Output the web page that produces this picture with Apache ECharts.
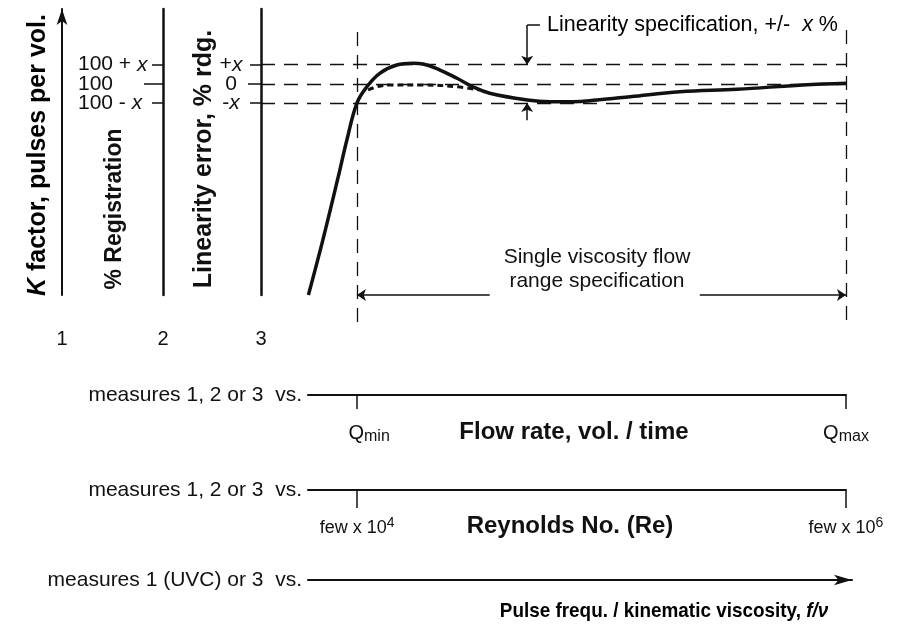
<!DOCTYPE html>
<html>
<head>
<meta charset="utf-8">
<script src="https://cdn.jsdelivr.net/npm/echarts@6/dist/echarts.min.js"></script>
<style>html,body{margin:0;padding:0;background:#fff}#chart{width:911px;height:628px}</style>
</head>
<body>
<div id="chart"></div>
<script>
// flow position (0..100 = Qmax) and linearity error in units of x %
const flowPos = [8.1, 10.6, 13.2, 14.7, 16.4, 18.1, 20.3, 23.2, 26.0, 27.7, 30.6, 33.5, 36.2, 39.1, 45.5, 49.4, 53.3, 57.4, 63.1, 71.6, 81.4, 92.6, 100];
const linErr  = [-11.0, -8.1, -4.85, -2.9, -1.0, -0.15, 0.55, 0.98, 1.07, 1.03, 0.72, 0.29, -0.15, -0.49, -0.84, -0.93, -0.93, -0.84, -0.67, -0.41, -0.28, -0.06, 0.03];
// dashed (ideal) curve
const idealPos = [18.3, 19.8, 22.0, 27.7, 33.5, 37.4];
const idealErr = [-0.32, -0.15, -0.06, -0.06, -0.15, -0.32];

const specLevels = [-1, 0, 1];         // -x, 0, +x
const qMin = 16.4, qMax = 100;
const specTop = 2.7, specBottom = -12.5;
const rangeY = -11, rangeGap = [39.1, 75];
const bracketX = 45.5, bracketTop = 3.07, bracketEnd = 47.7, lowerFrom = -1.9;

const FONT = "'Liberation Sans', Arial, sans-serif";
const INK = '#111';

const chart = echarts.init(document.getElementById('chart'));

const specSegs = specLevels.map(v => [[0, v], [qMax, v]])
  .concat([[[qMin, specTop], [qMin, specBottom]], [[qMax, specTop + 0.1], [qMax, specBottom]]]);
const arrowSegs = [
  [[bracketX, bracketTop], [bracketX, specLevels[2]]],
  [[bracketX, lowerFrom], [bracketX, specLevels[0]]],
  [[rangeGap[0], rangeY], [qMin, rangeY]],
  [[rangeGap[1], rangeY], [qMax, rangeY]]
];
const plainSegs = [[[bracketX, bracketTop], [bracketEnd, bracketTop]]];

const txt = (size, extra) => Object.assign({ fontFamily: FONT, fontSize: size, color: INK }, extra || {});

function bottomAxis(grid, min, max, name, ticks, fmt, rich, arrow, tickLen) {
  return {
    type: 'value', gridIndex: grid, min: min, max: max, position: 'bottom',
    splitLine: { show: false },
    axisLine: { show: true, lineStyle: { color: INK, width: 2 },
      symbol: arrow ? ['none', 'arrow'] : 'none', symbolSize: [8, 18] },
    axisTick: { show: !!ticks, customValues: ticks || [], length: tickLen || 16, lineStyle: { color: INK, width: 1.5 } },
    axisLabel: { show: !!ticks, customValues: ticks || [], margin: 26, formatter: fmt, rich: rich },
    name: name, nameLocation: 'start', nameGap: 6,
    nameTextStyle: txt(21, { verticalAlign: 'middle' })
  };
}

// one vertical level scale; the zero level goes on a companion axis so its label is not thinned out
function levelAxis(offset, name, values, fmt, margin, align, tickLen, showLine) {
  return {
    type: 'value', gridIndex: 0, min: -11, max: 3.9, position: 'left', offset: offset,
    splitLine: { show: false },
    axisLine: { show: showLine, lineStyle: { color: INK, width: 2.5 } },
    axisTick: { show: true, interval: 0, customValues: values, length: tickLen, lineStyle: { color: INK, width: 1.5 } },
    axisLabel: { customValues: values, interval: 0, hideOverlap: false,
      margin: margin, align: align, formatter: fmt,
      rich: { n: txt(21), i: txt(21, { fontStyle: 'italic' }) } },
    name: name, nameLocation: 'start', nameGap: 34, nameTextStyle: txt(20)
  };
}

const fmtErr = v => v > 0 ? '{n|+}{i|x}' : (v < 0 ? '{n|-}{i|x}' : '{n|0}');
const fmtReg = v => v > 0 ? '{n|100 + }{i|x}' : (v < 0 ? '{n|100 - }{i|x}' : '{n|100}');
const plusMinus = [specLevels[0], specLevels[2]];
const zeroLevel = [specLevels[1]];

const option = {
  animation: false,
  backgroundColor: '#fff',
  grid: [
    { left: 261, right: 65, top: 9, bottom: 333 },
    { left: 308, right: 65, top: 385, height: 10 },
    { left: 308, right: 65, top: 480, height: 10 },
    { left: 308, right: 59, top: 570, height: 10 }
  ],
  xAxis: [
    { type: 'value', gridIndex: 0, min: 0, max: 100, show: false },
    bottomAxis(1, 8, 100, 'measures 1, 2 or 3  vs.', [qMin, qMax],
      v => v === qMin ? '{qa|Q}{s|min}' : '{q|Q}{s|max}',
      { q: txt(20), qa: txt(20, { padding: [0, 0, 0, 24] }), s: txt(16, { padding: [8, 0, 0, 0] }) }, false, 14),
    bottomAxis(2, 8, 100, 'measures 1, 2 or 3  vs.', [qMin, qMax],
      v => '{b|few x 10}{p|' + (v === qMin ? 4 : 6) + '}',
      { b: txt(18), p: txt(14, { padding: [0, 0, 10, 0] }) }, false, 18),
    bottomAxis(3, 8, 101, 'measures 1 (UVC) or 3  vs.', null, null, null, true)
  ],
  yAxis: [
    levelAxis(0, '3', plusMinus, fmtErr, 30, 'center', 11, true),      // linearity error
    levelAxis(98, '2', plusMinus, fmtReg, 85, 'left', 11, true),       // % registration
    { // axis 1: K factor
      type: 'value', gridIndex: 0, min: -11, max: 3.9, position: 'left', offset: 199,
      splitLine: { show: false },
      axisLine: { show: true, lineStyle: { color: INK, width: 2 }, symbol: ['none', 'arrow'], symbolSize: [8, 16] },
      axisTick: { show: false }, axisLabel: { show: false },
      name: '1', nameLocation: 'start', nameGap: 34, nameTextStyle: txt(20)
    },
    levelAxis(0, '', zeroLevel, fmtErr, 30, 'center', 13, false),
    levelAxis(98, '', zeroLevel, fmtReg, 85, 'left', 19, false),
    { type: 'value', gridIndex: 1, show: false },
    { type: 'value', gridIndex: 2, show: false },
    { type: 'value', gridIndex: 3, show: false }
  ],
  series: [
    {
      type: 'lines', coordinateSystem: 'cartesian2d', xAxisIndex: 0, yAxisIndex: 0,
      clip: false, silent: true, symbol: 'none', z: 1,
      lineStyle: { color: INK, width: 1.3, type: [14, 9], opacity: 1 },
      data: specSegs.map(c => ({ coords: c }))
    },
    {
      type: 'lines', coordinateSystem: 'cartesian2d', xAxisIndex: 0, yAxisIndex: 0,
      clip: false, silent: true, symbol: ['none', 'arrow'], symbolSize: 9, z: 2,
      lineStyle: { color: INK, width: 1.5, opacity: 1 },
      data: arrowSegs.map(c => ({ coords: c }))
    },
    {
      type: 'lines', coordinateSystem: 'cartesian2d', xAxisIndex: 0, yAxisIndex: 0,
      clip: false, silent: true, symbol: 'none', z: 2,
      lineStyle: { color: INK, width: 1.5, opacity: 1 },
      data: plainSegs.map(c => ({ coords: c }))
    },
    {
      type: 'line', xAxisIndex: 0, yAxisIndex: 0, clip: false, z: 4,
      smooth: 0.4, symbol: 'none',
      lineStyle: { color: INK, width: 3.5 },
      data: flowPos.map((x, i) => [x, linErr[i]])
    },
    {
      type: 'line', xAxisIndex: 0, yAxisIndex: 0, clip: false, z: 3,
      smooth: 0.4, symbol: 'none',
      lineStyle: { color: INK, width: 3, type: [6, 4] },
      data: idealPos.map((x, i) => [x, idealErr[i]])
    }
  ],
  graphic: [
    { type: 'text', x: 38, y: 155, rotation: Math.PI / 2,
      style: { text: '{k|K}{b| factor, pulses per vol.}', align: 'center', verticalAlign: 'middle',
        rich: { k: txt(25, { fontWeight: 'bold', fontStyle: 'italic' }), b: txt(25, { fontWeight: 'bold' }) } } },
    { type: 'text', x: 115, y: 209, rotation: Math.PI / 2,
      style: { text: '% Registration', align: 'center', verticalAlign: 'middle',
        font: 'bold 23px ' + FONT, fill: INK } },
    { type: 'text', x: 204, y: 159, rotation: Math.PI / 2,
      style: { text: 'Linearity error, % rdg.', align: 'center', verticalAlign: 'middle',
        font: 'bold 25px ' + FONT, fill: INK } },
    { type: 'text', x: 547, y: 25,
      style: { text: '{n|Linearity specification, +/-  }{i|x}{n| %}', align: 'left', verticalAlign: 'middle',
        rich: { n: txt(21.5), i: txt(21.5, { fontStyle: 'italic' }) } } },
    { type: 'text', x: 597, y: 257,
      style: { text: 'Single viscosity flow', align: 'center', verticalAlign: 'middle', font: '21px ' + FONT, fill: INK } },
    { type: 'text', x: 597, y: 281,
      style: { text: 'range specification', align: 'center', verticalAlign: 'middle', font: '21px ' + FONT, fill: INK } },
    { type: 'text', x: 574, y: 432,
      style: { text: 'Flow rate, vol. / time', align: 'center', verticalAlign: 'middle', font: 'bold 24px ' + FONT, fill: INK } },
    { type: 'text', x: 570, y: 526,
      style: { text: 'Reynolds No. (Re)', align: 'center', verticalAlign: 'middle', font: 'bold 24px ' + FONT, fill: INK } },
    { type: 'text', x: 664, y: 611, scaleX: 0.9,
      style: { text: '{b|Pulse frequ. / kinematic viscosity, }{i|f/ν}', align: 'center', verticalAlign: 'middle',
        rich: { b: txt(21, { fontWeight: 'bold' }), i: txt(21, { fontWeight: 'bold', fontStyle: 'italic' }) } } }
  ]
};

chart.setOption(option);
</script>
</body>
</html>
